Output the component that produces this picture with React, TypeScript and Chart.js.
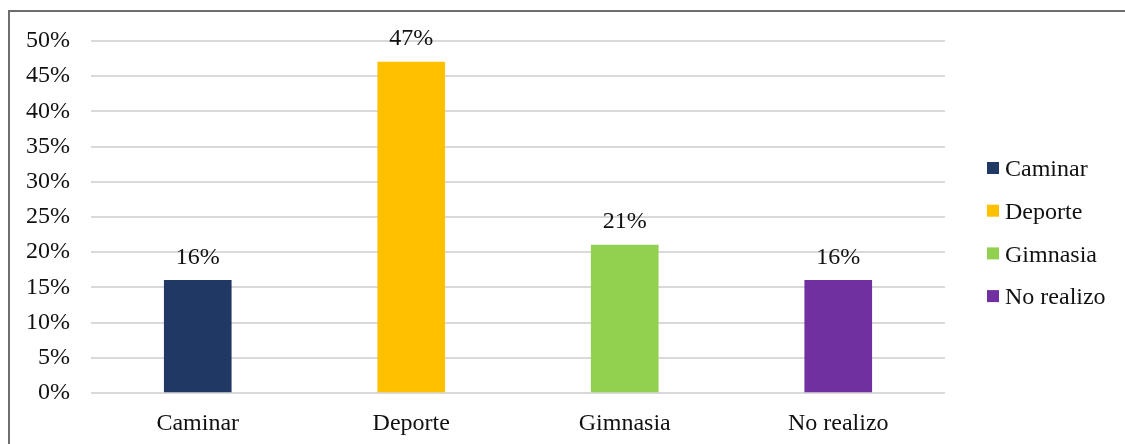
import React, { useEffect, useRef } from "react";
import { Chart, registerables } from "chart.js";

Chart.register(...registerables);

const categories = ["Caminar", "Deporte", "Gimnasia", "No realizo"];
const values = [16, 47, 21, 16];
const colors = ["#203864", "#FFC000", "#92D050", "#7030A0"];
const yTicks = [0, 5, 10, 15, 20, 25, 30, 35, 40, 45, 50];

const FONT = "'Liberation Serif', 'Times New Roman', serif";
const TEXT = "#111111";
const FS = 24;

const dataLabels = {
  id: "dataLabels",
  afterDatasetsDraw(chart: any) {
    const ctx = chart.ctx;
    ctx.save();
    ctx.font = `${FS}px ${FONT}`;
    ctx.fillStyle = TEXT;
    ctx.textAlign = "center";
    ctx.textBaseline = "middle";
    chart.data.datasets.forEach((ds: any, di: number) => {
      const meta = chart.getDatasetMeta(di);
      meta.data.forEach((el: any, i: number) => {
        const v = ds.data[i];
        if (v === null || v === undefined) return;
        ctx.fillText(`${v}%`, el.x, el.y - 23);
      });
    });
    ctx.restore();
  },
};

const customLegend = {
  id: "customLegend",
  afterDraw(chart: any) {
    const ctx = chart.ctx;
    ctx.save();
    ctx.font = `${FS}px ${FONT}`;
    ctx.textAlign = "left";
    ctx.textBaseline = "middle";
    const x0 = 987;
    const y0 = 168;
    const step = 42.7;
    chart.data.datasets.forEach((ds: any, i: number) => {
      const y = y0 + i * step;
      ctx.fillStyle = ds.backgroundColor;
      ctx.fillRect(x0, y - 6, 12, 12);
      ctx.fillStyle = TEXT;
      ctx.fillText(ds.label, x0 + 18, y + 2);
    });
    ctx.restore();
  },
};

export default function App() {
  const ref = useRef<HTMLCanvasElement>(null);
  useEffect(() => {
    if (!ref.current) return;
    const datasets = categories.map((c, i) => ({
      label: c,
      data: categories.map((_, j) => (j === i ? values[i] : null)),
      backgroundColor: colors[i],
      barThickness: 67,
      grouped: false,
    }));
    const chart = new Chart(ref.current, {
      type: "bar",
      data: { labels: categories, datasets },
      options: {
        responsive: false,
        animation: false,
        layout: { padding: { left: 0, top: 41, right: 180, bottom: 0 } },
        plugins: { legend: { display: false }, tooltip: { enabled: false } },
        scales: {
          x: {
            grid: { display: false, drawTicks: false },
            border: { display: false },
            ticks: { font: { family: FONT, size: FS }, color: TEXT, padding: 16 },
            afterFit: (s: any) => {
              s.height = 51;
            },
          },
          y: {
            min: 0,
            max: 50,
            afterBuildTicks: (s: any) => {
              s.ticks = yTicks.map((v) => ({ value: v }));
            },
            grid: { color: "#d9d9d9", lineWidth: 2, drawTicks: false },
            border: { display: false },
            ticks: {
              font: { family: FONT, size: FS },
              color: TEXT,
              padding: 21,
              callback: (v: any) => `${v}%`,
            },
            afterFit: (s: any) => {
              s.width = 91;
            },
          },
        },
      } as any,
      plugins: [dataLabels, customLegend],
    });
    return () => chart.destroy();
  }, []);
  return (
    <div>
      <canvas
        ref={ref}
        width={1125}
        height={444}
        style={{ position: "fixed", left: 0, top: 0, width: 1125, height: 444, background: "#fff" }}
      />
      <div
        style={{
          position: "fixed",
          left: 8,
          top: 10,
          width: 1130,
          height: 500,
          borderTop: "2px solid #6d6d6d",
          borderLeft: "2px solid #6d6d6d",
          boxSizing: "border-box",
          pointerEvents: "none",
        }}
      />
    </div>
  );
}
